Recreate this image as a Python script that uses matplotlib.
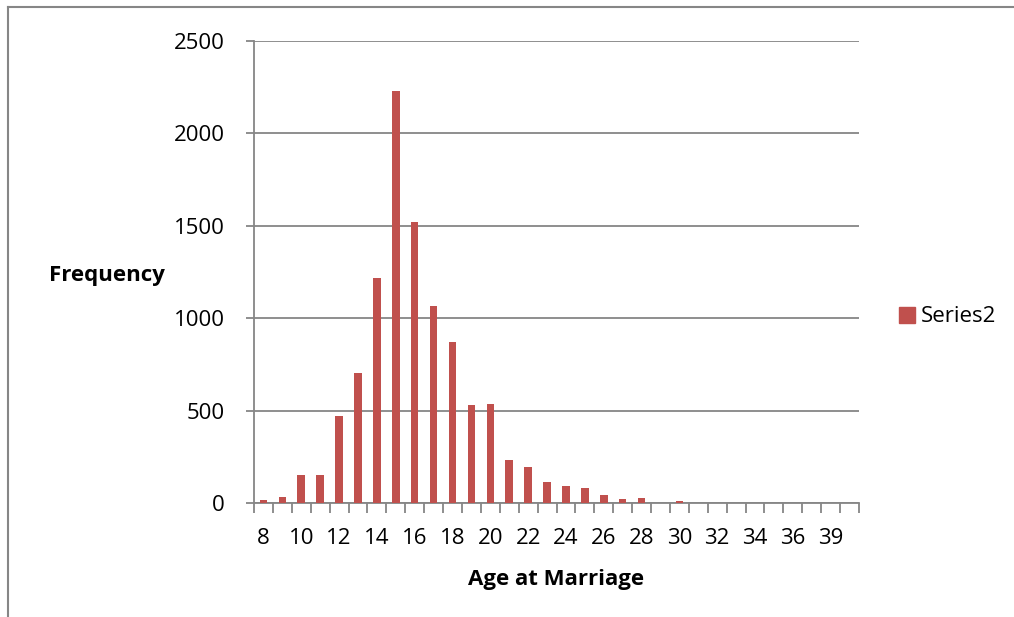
import matplotlib
matplotlib.use("Agg")
import matplotlib.pyplot as plt
from matplotlib.patches import Patch
from matplotlib.lines import Line2D

ages = ["8", "9", "10", "11", "12", "13", "14", "15", "16", "17", "18", "19", "20",
        "21", "22", "23", "24", "25", "26", "27", "28", "29", "30", "31", "32",
        "33", "34", "35", "36", "37", "39", "40"]
frequency = [18, 33, 155, 151, 470, 705, 1219, 2231, 1522, 1067, 872, 530, 537,
             233, 195, 117, 94, 83, 45, 23, 29, 0, 12, 3, 3,
             0, 0, 0, 0, 0, 0, 0]
y_ticks = [0, 500, 1000, 1500, 2000, 2500]
labelled = [0, 2, 4, 6, 8, 10, 12, 14, 16, 18, 20, 22, 24, 26, 28, 30]

plt.rcParams['font.family'] = ['Open Sans', 'DejaVu Sans']
W, H = 1014, 617
fig = plt.figure(figsize=(W / 100, H / 100), dpi=100)
ax = fig.add_axes([254 / W, 1 - 503.3 / H, (859 - 254) / W, (503.3 - 41) / H])

grey = "#868686"
bar_color = "#C0504D"
x = list(range(len(ages)))
ax.bar(x, frequency, width=0.4, color=bar_color, zorder=3, label="Series2")

ax.set_xlim(-0.5, len(ages) - 0.5)
ax.set_ylim(0, 2500)
ax.set_yticks(y_ticks)
ax.set_yticklabels([str(v) for v in y_ticks], fontsize=16)
ax.yaxis.grid(True, color=grey, linewidth=1.3, zorder=0)
ax.set_xticks(labelled)
ax.set_xticklabels([ages[i] for i in labelled], fontsize=16)
ax.set_xticks([i - 0.5 for i in range(len(ages) + 1)], minor=True)
ax.tick_params(axis='x', which='major', length=0, pad=18)
ax.tick_params(axis='x', which='minor', length=7, width=1.3, color=grey)
ax.tick_params(axis='y', length=6, width=1.3, color=grey, pad=15)

for side in ["top", "right"]:
    ax.spines[side].set_visible(False)
for side in ["left", "bottom"]:
    ax.spines[side].set_color(grey)
    ax.spines[side].set_linewidth(1.3)

fig.text(106.5 / W, 1 - 275.5 / H, "Frequency", fontsize=16, fontweight="bold",
         ha="center", va="center")
fig.text(556.5 / W, 1 - 580 / H, "Age at Marriage", fontsize=16, fontweight="bold",
         ha="center", va="center")

handle = Patch(facecolor=bar_color, edgecolor=bar_color)
fig.legend([handle], ["Series2"], loc="center left",
           bbox_to_anchor=(879 / W, 1 - 317 / H), frameon=False, fontsize=16,
           handlelength=0.7, handleheight=0.7, handletextpad=0.3)

fig.add_artist(Line2D([7.5 / W, 7.5 / W], [0, 1 - 6.5 / H], transform=fig.transFigure,
                      color=grey, linewidth=1.5))
fig.add_artist(Line2D([7.5 / W, 1.01], [1 - 6.5 / H, 1 - 6.5 / H], transform=fig.transFigure,
                      color=grey, linewidth=1.5))

fig.savefig("out.png", dpi=100)
